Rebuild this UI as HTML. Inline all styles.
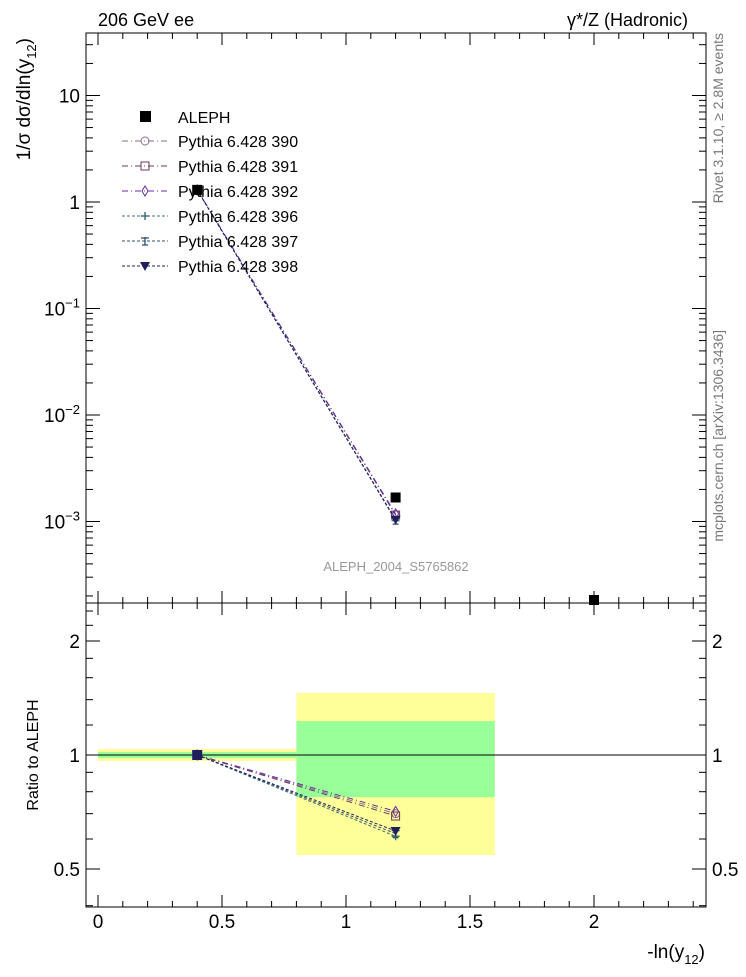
<!DOCTYPE html>
<html><head><meta charset="utf-8"><style>body{margin:0;background:#fff}svg text{font-family:"Liberation Sans",sans-serif}</style></head>
<body>
<svg id="c" width="746" height="972" xmlns="http://www.w3.org/2000/svg"></svg>
<script>
const xCats=[0.4,1.2,2.0];
const binLo=[0,0.8,1.6];
const binHi=[0.8,1.6,2.4];
const alephVals=[1.30,1.68e-3,1.8e-4];
const mcNames=["Pythia 6.428 390","Pythia 6.428 391","Pythia 6.428 392","Pythia 6.428 396","Pythia 6.428 397","Pythia 6.428 398"];
const mc390=[1.30,1.16e-3];
const mc391=[1.30,1.15e-3];
const mc392=[1.30,1.18e-3];
const mc396=[1.30,1.02e-3];
const mc397=[1.30,1.03e-3];
const mc398=[1.30,1.04e-3];
const ratio390=[1.0,0.70];
const ratio391=[1.0,0.69];
const ratio392=[1.0,0.71];
const ratio396=[1.0,0.61];
const ratio397=[1.0,0.62];
const ratio398=[1.0,0.63];
const yellowLo=[0.964,0.544];
const yellowHi=[1.037,1.458];
const greenLo=[0.982,0.774];
const greenHi=[1.018,1.229];
const xTicks=[0,0.5,1,1.5,2];
const xTickLabels=["0","0.5","1","1.5","2"];
const yTicks=[1,0,-1,-2,-3];
const rTicks=[2,1,0.5];
const rTickLabels=["2","1","0.5"];

const svg=document.getElementById('c');
const NS="http://www.w3.org/2000/svg";
function el(t,a,p){const e=document.createElementNS(NS,t);for(const k in a)e.setAttribute(k,a[k]);(p||svg).appendChild(e);return e;}
const L=86,R=706,T=33,M=603,B=907;
const X=v=>98+248*v;
const Y=v=>202-106.5*Math.log10(v);
const RY=v=>755-114*Math.log2(v);
const colors=["#8a6f8a","#6b3a5e","#6a2fa0","#40707a","#2f4f6a","#1f1f5e"];
const dashes=["6,3,1,3","6,3,1,3","6,3,1,3","3,2","3,2","3,2"];
const mcs=[mc390,mc391,mc392,mc396,mc397,mc398];
const rats=[ratio390,ratio391,ratio392,ratio396,ratio397,ratio398];

for(let i=0;i<2;i++){
 let r=el('rect',{x:X(binLo[i]),y:RY(yellowHi[i]),width:X(binHi[i])-X(binLo[i]),height:RY(yellowLo[i])-RY(yellowHi[i]),fill:'#ffff99'});
 
 r=el('rect',{x:X(binLo[i]),y:RY(greenHi[i]),width:X(binHi[i])-X(binLo[i]),height:RY(greenLo[i])-RY(greenHi[i]),fill:'#99ff99'});
 
}
el('line',{x1:L,x2:R,y1:RY(1),y2:RY(1),stroke:'#000','stroke-width':1});

for(const [y1,y2,n] of [[T,M,'main-frame'],[M,B,'ratio-frame']]){
 const f=el('rect',{x:L,y:y1,width:R-L,height:y2-y1,fill:'none',stroke:'#000','stroke-width':1});
 
}
for(let v=0;v<=2.4001;v+=0.1){
 const big=Math.abs(v*2-Math.round(v*2))<1e-6;const len=big?12:6;
 for(const y of [M,B]){el('line',{x1:X(v),x2:X(v),y1:y,y2:y-len,stroke:'#000'});}
 el('line',{x1:X(v),x2:X(v),y1:M,y2:M+len,stroke:'#000'});
 el('line',{x1:X(v),x2:X(v),y1:T,y2:T+len,stroke:'#000'});
}
xTicks.forEach((v,i)=>{const t=el('text',{x:X(v),y:928,'font-size':19,'text-anchor':'middle'});t.textContent=xTickLabels[i];});
for(let d=-4;d<=1;d++){for(let m=1;m<10;m++){const v=m*Math.pow(10,d);const y=Y(v);if(y<T||y>M)continue;const len=m==1?14:7;
 el('line',{x1:L,x2:L+len,y1:y,y2:y,stroke:'#000'});el('line',{x1:R,x2:R-len,y1:y,y2:y,stroke:'#000'});}}
const yl=["10","1","10","10","10"],ye=["","","−1","−2","−3"];
yTicks.forEach((d,i)=>{const t=el('text',{x:80,y:Y(Math.pow(10,d))+7,'font-size':19,'text-anchor':'end'});t.textContent=yl[i];
 if(ye[i]){const s=el('tspan',{dy:-8,'font-size':13},t);s.textContent=ye[i];}});
for(const v of [0.4,0.5,0.6,0.7,0.8,0.9,1,1.2,1.4,1.6,1.8,2,2.2,2.4]){const y=RY(v);const len=(v==0.5||v==1||v==2)?14:7;
 el('line',{x1:L,x2:L+len,y1:y,y2:y,stroke:'#000'});el('line',{x1:R,x2:R-len,y1:y,y2:y,stroke:'#000'});}
rTicks.forEach((v,i)=>{for(const [x,a] of [[80,'end'],[712,'start']]){const t=el('text',{x:x,y:RY(v)+7,'font-size':19,'text-anchor':a});t.textContent=rTickLabels[i];}});

function marker(k,x,y,g){const c=colors[k];
 if(k==0)el('circle',{cx:x,cy:y,r:4,fill:'none',stroke:c},g);
 else if(k==1)el('rect',{x:x-4,y:y-4,width:8,height:8,fill:'none',stroke:c},g);
 else if(k==2)el('polygon',{points:`${x},${y-5} ${x+3},${y} ${x},${y+5} ${x-3},${y}`,fill:'none',stroke:c},g);
 else if(k==3)el('path',{d:`M${x-4},${y}h8M${x},${y-4}v8`,stroke:c,'stroke-width':1.5},g);
 else if(k==4)el('path',{d:`M${x-4},${y-3}L${x+4},${y-3}M${x},${y-4}v8M${x-3},${y+4}L${x+3},${y+4}`,stroke:c,'stroke-width':1.3},g);
 else el('polygon',{points:`${x-5},${y-4} ${x+5},${y-4} ${x},${y+5}`,fill:c},g);}
mcs.forEach((arr,k)=>{
 const g=el('g',{});
 el('polyline',{points:arr.map((v,i)=>X(xCats[i])+','+Y(v)).join(' '),fill:'none',stroke:colors[k],'stroke-dasharray':dashes[k]},g);
 arr.forEach((v,i)=>marker(k,X(xCats[i]),Y(v),g));
 const r=rats[k];
 el('polyline',{points:r.map((v,i)=>X(xCats[i])+','+RY(v)).join(' '),fill:'none',stroke:colors[k],'stroke-dasharray':dashes[k]},g);
 r.forEach((v,i)=>marker(k,X(xCats[i]),RY(v),g));
});
alephVals.forEach((v,i)=>{let y=Y(v);if(y>M-3)y=M-3;const r=el('rect',{x:X(xCats[i])-5,y:y-5,width:10,height:10,fill:'#000'});});
el('rect',{x:X(0.4)-5,y:RY(1)-5,width:10,height:10,fill:'#1f1f5e'});
const lg=el('g',{});
el('rect',{x:140,y:111,width:11,height:11,fill:'#000'},lg);
let t=el('text',{x:178,y:123,'font-size':16},lg);t.textContent='ALEPH';
mcNames.forEach((n,k)=>{const y=141+25*k;
 el('line',{x1:122,x2:168,y1:y,y2:y,stroke:colors[k],'stroke-dasharray':dashes[k]},lg);marker(k,145,y,lg);
 const tt=el('text',{x:178,y:y+6,'font-size':16},lg);tt.textContent=n;});
const texts=[[98,26,'206 GeV ee',18,'start'],[688,26,'γ*/Z (Hadronic)',18,'end'],[396,571,'ALEPH_2004_S5765862',13,'middle']];
texts.forEach(a=>{const e=el('text',{x:a[0],y:a[1],'font-size':a[3],'text-anchor':a[4]});e.textContent=a[2];if(a[3]==13)e.setAttribute('fill','#999');});
t=el('text',{x:705,y:958,'font-size':19,'text-anchor':'end'});t.textContent='-ln(y';let s=el('tspan',{dy:6,'font-size':13},t);s.textContent='12';s=el('tspan',{dy:-6},t);s.textContent=')';

t=el('text',{transform:'translate(30,38) rotate(-90)','font-size':19,'text-anchor':'end'});t.textContent='1/σ  dσ/dln(y';s=el('tspan',{dy:6,'font-size':13},t);s.textContent='12';s=el('tspan',{dy:-6},t);s.textContent=')';

t=el('text',{transform:'translate(38,755) rotate(-90)','font-size':16,'text-anchor':'middle'});t.textContent='Ratio to ALEPH';

t=el('text',{transform:'translate(723,33) rotate(-90)','font-size':14,'text-anchor':'end',fill:'#777'});t.textContent='Rivet 3.1.10, ≥ 2.8M events';
t=el('text',{transform:'translate(723,330) rotate(-90)','font-size':14,'text-anchor':'end',fill:'#777'});t.textContent='mcplots.cern.ch [arXiv:1306.3436]';
</script>
</body></html>
